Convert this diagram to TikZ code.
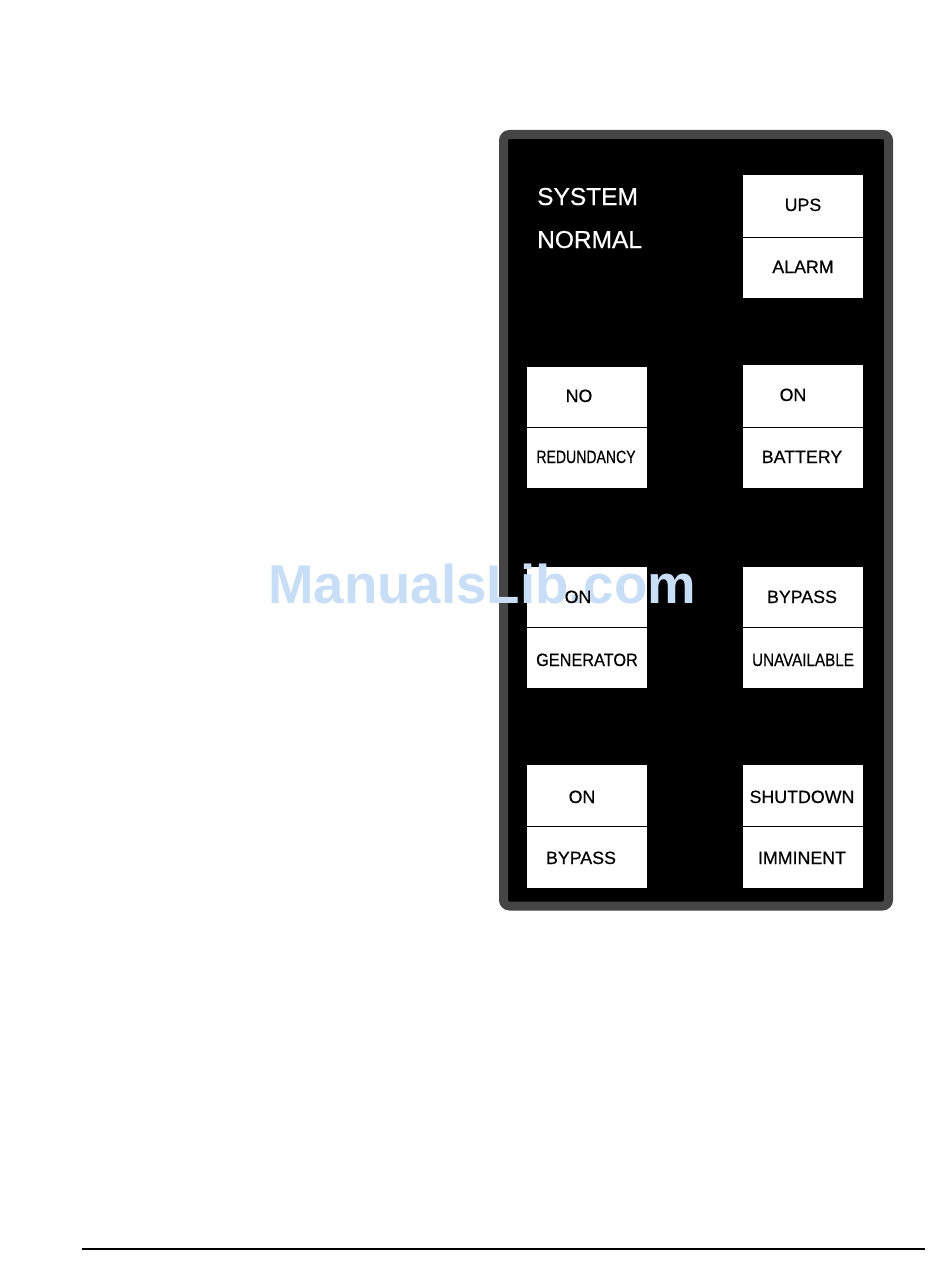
\documentclass[tikz,border=0pt]{standalone}
\usepackage{fontspec}
\setmainfont{Liberation Sans}
\newfontfamily\heavysans[FakeBold=0.5]{Liberation Sans}
\usepackage{tikz}
\usetikzlibrary{calc}

\definecolor{wmblue}{RGB}{200,221,246}

\tikzset{
  lampbox/.style={fill=white, draw=none},
  lamptext/.style={font=\heavysans\fontsize{17.8}{18}\selectfont, anchor=base, inner sep=0pt, text=black},
  paneltext/.style={font=\heavysans\fontsize{24.5}{25}\selectfont, anchor=base west, inner sep=0pt, text=white}
}

\begin{document}
\begin{tikzpicture}[x=1pt, y=-1pt]
    \useasboundingbox (0,0) rectangle (950,1276);

    % panel frame
    \draw[draw=black!73, fill=black, line width=9pt, rounded corners=6pt] (503.5,134.5) rectangle (888.5,906);

    % lamp boxes with divider
    \foreach \bx/\by/\bh/\bd in {743/175/298/237, 527/367/488/427, 743/365/488/427,
                                 527/567/688/627, 743/567/688/627, 527/765/888/826, 743/765/888/826} {
        \fill[lampbox] (\bx,\by) rectangle (\bx+119.5,\bh);
        \draw[black, line width=1pt] (\bx,\bd) -- (\bx+119.5,\bd);
    }

    \node[paneltext] (sys) at (537,205) {SYSTEM};
    \node[paneltext] (nrm) at (537,248) {NORMAL};

    \node[lamptext] (ups) at (803,211) {UPS};
    \node[lamptext] (alm) at (803,273) {ALARM};

    \node[lamptext] (no) at (579,402) {NO};
    \node[lamptext] (red) at (586,463) {\scalebox{0.79}[1]{REDUNDANCY}};
    \node[lamptext] (onb) at (793,401) {ON};
    \node[lamptext] (bat) at (802,463) {BATTERY};

    % watermark
    \node[font=\fontsize{54.6}{55}\selectfont\bfseries, text=wmblue, anchor=base west, inner sep=0pt] (wm) at (268,603) {ManualsLib.com};

    \node[lamptext] (ong) at (578,603) {ON};
    \node[lamptext] (gen) at (587,666) {\scalebox{0.915}[1]{GENERATOR}};
    \node[lamptext] (byp) at (802,603) {BYPASS};
    \node[lamptext] (una) at (803,666) {\scalebox{0.855}[1]{UNAVAILABLE}};

    \node[lamptext] (onp) at (582,803) {ON};
    \node[lamptext] (bpb) at (581,864) {BYPASS};
    \node[lamptext] (sht) at (802,803) {SHUTDOWN};
    \node[lamptext] (imm) at (802,864) {IMMINENT};

    % footer rule
    \draw[black, line width=1.2pt] (82,1249) -- (925,1249);
\end{tikzpicture}
\end{document}
